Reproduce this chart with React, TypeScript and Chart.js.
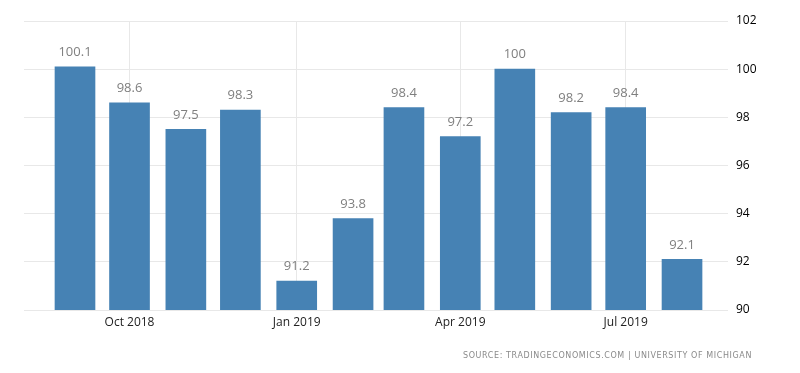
import React, { useEffect, useRef } from "react";
import { Chart, registerables } from "chart.js";

Chart.register(...registerables);

const months = ["2018-09", "2018-10", "2018-11", "2018-12", "2019-01", "2019-02", "2019-03", "2019-04", "2019-05", "2019-06", "2019-07", "2019-08"];
const values = [100.1, 98.6, 97.5, 98.3, 91.2, 93.8, 98.4, 97.2, 100, 98.2, 98.4, 92.1];
const tickMonths = ["2018-10", "2019-01", "2019-04", "2019-07"];
const tickLabels = ["Oct 2018", "Jan 2019", "Apr 2019", "Jul 2019"];
const yTicks = [90, 92, 94, 96, 98, 100, 102];
const sourceText = "SOURCE: TRADINGECONOMICS.COM | UNIVERSITY OF MICHIGAN";

const dayOf = (s: string) => {
  const [y, m] = s.split("-").map(Number);
  return (Date.UTC(y, m - 1, 1) - Date.UTC(2018, 8, 1)) / 864e5;
};

export default function App() {
  const ref = useRef<HTMLCanvasElement | null>(null);
  useEffect(() => {
    document.body.style.margin = "0";
    const ctx = ref.current!.getContext("2d")!;
    const tickDays = tickMonths.map(dayOf);
    const labelPlugin = {
      id: "labels",
      afterDatasetsDraw(chart: any) {
        const c = chart.ctx;
        const meta = chart.getDatasetMeta(0);
        c.save();
        c.font = "13px 'Open Sans', sans-serif";
        c.fillStyle = "#7f7f7f";
        c.textAlign = "center";
        c.textBaseline = "bottom";
        meta.data.forEach((el: any, i: number) => {
          c.fillText(String(values[i]), el.x, el.y - 8);
        });
        c.restore();
      },
      afterDraw(chart: any) {
        const c = chart.ctx;
        c.save();
        c.font = "8px 'DejaVu Sans', sans-serif";
        c.fillStyle = "#8a8a8a";
        c.textAlign = "right";
        c.textBaseline = "middle";
        try { (c as any).letterSpacing = "0.6px"; } catch (e) {}
        c.fillText(sourceText, 752, 356);
        c.restore();
      },
    };
    const chart = new Chart(ctx, {
      type: "bar",
      data: {
        datasets: [
          {
            data: months.map((m, i) => ({ x: dayOf(m), y: values[i] })),
            backgroundColor: "#4682b4",
            barThickness: 40,
          },
        ],
      },
      options: {
        animation: false,
        responsive: false,
        layout: { padding: { left: 24, top: 21, right: 0, bottom: 0 } },
        plugins: { legend: { display: false }, tooltip: { enabled: false } },
        scales: {
          x: {
            type: "linear",
            min: -28.06,
            max: 359.3,
            offset: false,
            afterBuildTicks: (scale: any) => {
              scale.ticks = tickDays.map((v) => ({ value: v }));
            },
            afterFit: (scale: any) => {
              scale.height = 63;
            },
            ticks: {
              autoSkip: false,
              maxRotation: 0,
              padding: 5,
              color: "#222222",
              font: { family: "'Open Sans', sans-serif", size: 12 },
              callback: (v: any) => {
                const idx = tickDays.indexOf(Number(v));
                return idx >= 0 ? tickLabels[idx] : "";
              },
            },
            grid: { color: "#e8e8e8", drawTicks: false, offset: false },
            border: { display: false },
          },
          y: {
            position: "right",
            min: 90,
            max: 102,
            afterBuildTicks: (scale: any) => {
              scale.ticks = yTicks.map((v) => ({ value: v }));
            },
            afterFit: (scale: any) => {
              scale.width = 72;
            },
            ticks: {
              padding: 8,
              color: "#000000",
              font: { family: "'Open Sans', sans-serif", size: 12 },
            },
            grid: { color: "#e8e8e8", drawTicks: false },
            border: { display: false },
          },
        },
      },
      plugins: [labelPlugin],
    } as any);
    return () => chart.destroy();
  }, []);
  return (
    <div style={{ width: 800, height: 373 }}>
      <canvas ref={ref} width={800} height={373} style={{ display: "block" }} />
    </div>
  );
}
